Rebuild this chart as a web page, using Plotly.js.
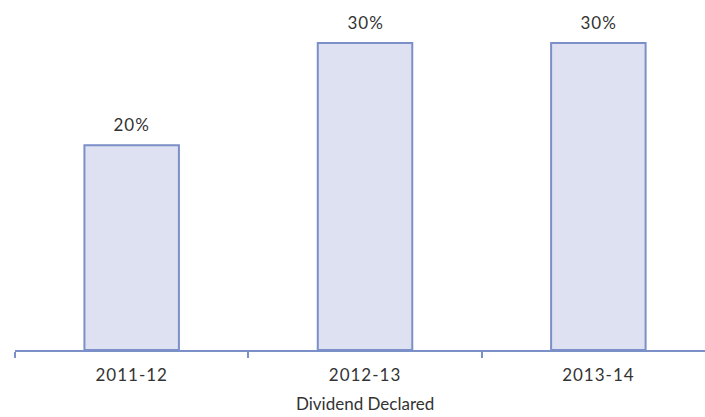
<!DOCTYPE html>
<html>
<head>
<meta charset="utf-8">
<script src="https://cdn.plot.ly/plotly-3.0.1.min.js"></script>
<style>
html,body{margin:0;padding:0;background:#fff;overflow:hidden}
#chart .xtick text, #chart .annotation text {letter-spacing:1px}
#chart .annotation[data-index="3"] text {letter-spacing:0}
</style>
</head>
<body>
<div id="chart" style="width:705px;height:417px"></div>
<script>
const categories = ["2011-12", "2012-13", "2013-14"];
const dividendPct = [20, 30, 30];
const labels = dividendPct.map(v => v + "%");
const axisTitle = "Dividend Declared";

const fontFam = "Lato, 'Open Sans', sans-serif";
const txtColor = "#333";

const valueAnnotations = categories.map((c, i) => ({
  text: labels[i], xref: "x", yref: "y", x: c, y: dividendPct[i],
  xanchor: "center", yanchor: "bottom", yshift: 8, showarrow: false,
  font: {family: fontFam, size: 17, color: txtColor}
}));

Plotly.newPlot("chart", [{
  type: "bar",
  x: categories,
  y: dividendPct,
  width: 0.405,
  marker: {color: "#dde1f1", line: {color: "#7b8fc8", width: 2}},
  hoverinfo: "skip"
}], {
  width: 705, height: 417,
  margin: {l: 15, r: 0, t: 0, b: 67},
  paper_bgcolor: "#fff", plot_bgcolor: "#fff",
  showlegend: false,
  xaxis: {
    type: "category",
    range: [-0.5, 2.457],
    tickson: "boundaries",
    ticks: "outside", ticklen: 6, tickwidth: 2, tickcolor: "#7b8fc8",
    showline: true, linecolor: "#7b8fc8", linewidth: 2,
    showgrid: false, zeroline: false,
    tickfont: {family: fontFam, size: 17, color: txtColor},
    ticklabelstandoff: 9
  },
  yaxis: {
    range: [0, 34.2],
    visible: false, showgrid: false, zeroline: false
  },
  annotations: valueAnnotations.concat([{
    text: axisTitle, xref: "x", x: 1, yref: "paper", y: -0.1886,
    xanchor: "center", yanchor: "bottom", showarrow: false,
    font: {family: fontFam, size: 17, color: txtColor}
  }])
}, {displayModeBar: false, staticPlot: true});
</script>
</body>
</html>
